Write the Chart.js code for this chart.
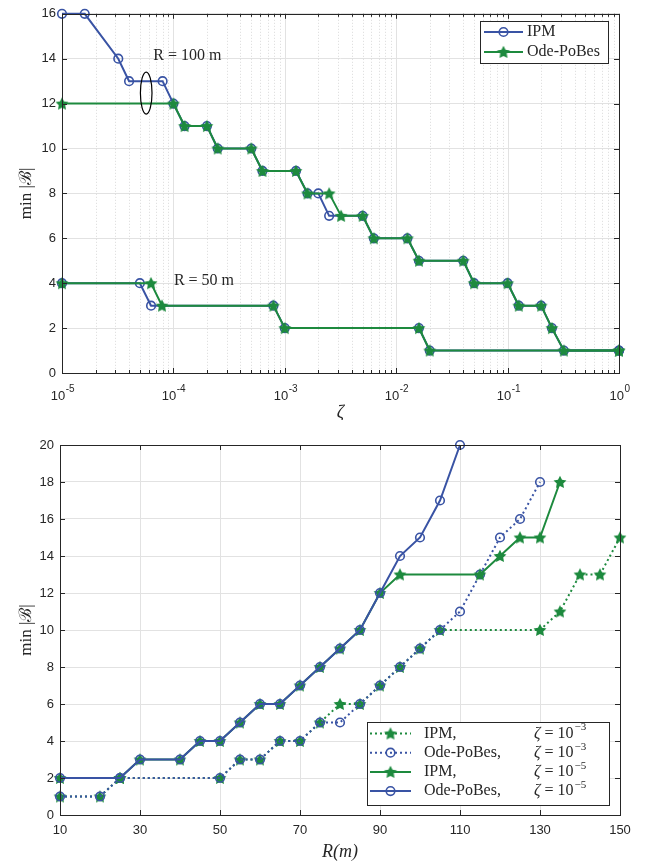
<!DOCTYPE html>
<html>
<head>
<meta charset="utf-8">
<script src="https://cdn.jsdelivr.net/npm/chart.js@4.4.0/dist/chart.umd.min.js"></script>
<style>
  body { margin: 0; background: #fff; width: 650px; height: 863px; overflow: hidden; }
  canvas { display: block; }
</style>
</head>
<body>
<canvas id="topChart" width="650" height="420"></canvas>
<canvas id="bottomChart" width="650" height="443"></canvas>
<script>
const BLUE = '#3953a4';
const GREEN = '#1d8a3e';
const INK = '#262626';
const SANS = '"Liberation Sans", Arial, sans-serif';
const SERIF = '"Liberation Serif", "DejaVu Serif", serif';

// --- min |B| versus zeta, R = 100 m ---
const zetaIpm100 = [1e-5, 1.6e-5, 3.2e-5, 4e-5, 8e-5, 1e-4, 1.26e-4, 2e-4, 2.5e-4, 5e-4, 6.3e-4, 1.26e-3, 1.6e-3, 2e-3, 2.5e-3, 5e-3, 6.3e-3, 1.26e-2, 1.6e-2, 4e-2, 5e-2, 0.1, 0.126, 0.2, 0.25, 0.32, 1];
const bIpm100 = [16, 16, 14, 13, 13, 12, 11, 11, 10, 10, 9, 9, 8, 8, 7, 7, 6, 6, 5, 5, 4, 4, 3, 3, 2, 1, 1];
const zetaOde100 = [1e-5, 1e-4, 1.26e-4, 2e-4, 2.5e-4, 5e-4, 6.3e-4, 1.26e-3, 1.6e-3, 2.5e-3, 3.2e-3, 5e-3, 6.3e-3, 1.26e-2, 1.6e-2, 4e-2, 5e-2, 0.1, 0.126, 0.2, 0.25, 0.32, 1];
const bOde100 = [12, 12, 11, 11, 10, 10, 9, 9, 8, 8, 7, 7, 6, 6, 5, 5, 4, 4, 3, 3, 2, 1, 1];

// --- min |B| versus zeta, R = 50 m ---
const zetaIpm50 = [1e-5, 5e-5, 6.3e-5, 7.9e-4, 1e-3, 1.6e-2, 2e-2, 1];
const bIpm50 = [4, 4, 3, 3, 2, 2, 1, 1];
const zetaOde50 = [1e-5, 6.3e-5, 7.9e-5, 7.9e-4, 1e-3, 1.6e-2, 2e-2, 1];
const bOde50 = [4, 4, 3, 3, 2, 2, 1, 1];

// --- min |B| versus R ---
const rIpm3 = [10, 20, 25, 50, 55, 60, 65, 70, 75, 80, 85, 90, 95, 100, 105, 130, 135, 140, 145, 150];
const bIpm3 = [1, 1, 2, 2, 3, 3, 4, 4, 5, 6, 6, 7, 8, 9, 10, 10, 11, 13, 13, 15];
const rOde3 = [10, 20, 25, 50, 55, 60, 65, 70, 75, 80, 85, 90, 95, 100, 105, 110, 115, 120, 125, 130];
const bOde3 = [1, 1, 2, 2, 3, 3, 4, 4, 5, 5, 6, 7, 8, 9, 10, 11, 13, 15, 16, 18];
const rIpm5 = [10, 25, 30, 40, 45, 50, 55, 60, 65, 70, 75, 80, 85, 90, 95, 115, 120, 125, 130, 135];
const bIpm5 = [2, 2, 3, 3, 4, 4, 5, 6, 6, 7, 8, 9, 10, 12, 13, 13, 14, 15, 15, 18];
const rOde5 = [10, 25, 30, 40, 45, 50, 55, 60, 65, 70, 75, 80, 85, 90, 95, 100, 105, 110];
const bOde5 = [2, 2, 3, 3, 4, 4, 5, 6, 6, 7, 8, 9, 10, 12, 14, 15, 17, 20];

const yTicksTop = { min: 0, max: 16, step: 2 };
const yTicksBottom = { min: 0, max: 20, step: 2 };
const xTicksBottom = { min: 10, max: 150, step: 20 };

// filled five-pointed star used as marker
function starImage(color, r) {
  const s = Math.ceil(r * 2 + 2);
  const c = document.createElement('canvas');
  c.width = c.height = s;
  const g = c.getContext('2d');
  g.beginPath();
  for (let i = 0; i < 10; i++) {
    const rad = i % 2 ? r * 0.5 : r;
    const a = -Math.PI / 2 + i * Math.PI / 5;
    g.lineTo(s / 2 + rad * Math.cos(a), s / 2 + rad * Math.sin(a) + r * 0.08);
  }
  g.closePath();
  g.fillStyle = color;
  g.fill();
  return c;
}
const STAR = starImage(GREEN, 6.8);

function series(xs, ys, color, marker, dotted, order) {
  return {
    data: xs.map((x, i) => ({ x, y: ys[i] })),
    borderColor: color,
    borderWidth: 2,
    borderDash: dotted ? [2, 3] : [],
    pointStyle: marker === 'star' ? STAR : 'circle',
    pointRadius: marker === 'star' ? 7 : 4.3,
    pointBorderWidth: 1.6,
    pointBorderColor: color,
    pointBackgroundColor: 'rgba(0,0,0,0)',
    tension: 0,
    fill: false,
    clip: false,
    order
  };
}

function seg(ctx, x1, y1, x2, y2) {
  ctx.beginPath(); ctx.moveTo(x1, y1); ctx.lineTo(x2, y2); ctx.stroke();
}

function drawZeta(ctx, x, y, exp) {
  ctx.textAlign = 'left';
  ctx.textBaseline = 'middle';
  ctx.font = 'italic 16px ' + SERIF;
  ctx.fillText('ζ', x, y);
  let w = ctx.measureText('ζ').width;
  ctx.font = '16px ' + SERIF;
  ctx.fillText(' = 10', x + w, y);
  w += ctx.measureText(' = 10').width;
  ctx.font = '11px ' + SERIF;
  ctx.fillText(exp, x + w + 1, y - 6);
}

function drawLegend(chart, lg) {
  const ctx = chart.ctx;
  ctx.save();
  ctx.fillStyle = '#fff';
  ctx.fillRect(lg.x, lg.y, lg.w, lg.h);
  ctx.strokeStyle = INK;
  ctx.lineWidth = 1;
  ctx.strokeRect(lg.x + 0.5, lg.y + 0.5, lg.w, lg.h);
  lg.rows.forEach((row, i) => {
    const ds = chart.data.datasets[row.ds];
    const cy = lg.y + lg.first + i * lg.step;
    ctx.strokeStyle = ds.borderColor;
    ctx.lineWidth = 2;
    ctx.setLineDash(ds.borderDash);
    seg(ctx, lg.lx, cy, lg.lx + lg.lw, cy);
    ctx.setLineDash([]);
    const mx = lg.lx + lg.lw / 2;
    if (ds.pointStyle === 'circle') {
      ctx.lineWidth = ds.pointBorderWidth;
      ctx.beginPath(); ctx.arc(mx, cy, ds.pointRadius, 0, Math.PI * 2); ctx.stroke();
    } else {
      ctx.drawImage(ds.pointStyle, mx - ds.pointStyle.width / 2, cy - ds.pointStyle.height / 2);
    }
    ctx.fillStyle = INK;
    ctx.font = '16px ' + SERIF;
    ctx.textAlign = 'left';
    ctx.textBaseline = 'middle';
    ctx.fillText(row.text, lg.tx, cy);
    if (row.exp) drawZeta(ctx, lg.zx, cy, row.exp);
  });
  ctx.restore();
}

// grid, inward ticks, box, labels, notes and legend drawn around the library's plot
const frame = {
  id: 'frame',
  beforeDatasetsDraw(chart, args, opts) {
    if (!opts.log) return;
    const { ctx, chartArea: a } = chart;
    const x = chart.scales.x;
    ctx.save();
    ctx.lineWidth = 1;
    for (let d = -5; d <= 0; d++) {
      const px = Math.round(x.getPixelForValue(Math.pow(10, d))) + 0.5;
      ctx.strokeStyle = '#e2e2e2';
      ctx.setLineDash([]);
      seg(ctx, px, a.top, px, a.bottom);
      if (d === 0) continue;
      ctx.strokeStyle = '#dadada';
      ctx.setLineDash([1, 2]);
      for (let m = 2; m < 10; m++) {
        const qx = Math.round(x.getPixelForValue(m * Math.pow(10, d))) + 0.5;
        seg(ctx, qx, a.top, qx, a.bottom);
      }
    }
    ctx.restore();
  },
  afterDraw(chart, args, opts) {
    const { ctx, chartArea: a } = chart;
    const x = chart.scales.x, y = chart.scales.y;
    ctx.save();
    ctx.strokeStyle = INK;
    ctx.lineWidth = 1;
    y.ticks.forEach(t => {
      const py = Math.round(y.getPixelForValue(t.value)) + 0.5;
      seg(ctx, a.left, py, a.left + 5, py);
      seg(ctx, a.right - 5, py, a.right, py);
    });
    if (opts.log) {
      for (let d = -5; d <= 0; d++) {
        const px = Math.round(x.getPixelForValue(Math.pow(10, d))) + 0.5;
        seg(ctx, px, a.bottom, px, a.bottom - 5);
        seg(ctx, px, a.top, px, a.top + 5);
        // decade labels 10^d
        ctx.fillStyle = INK;
        ctx.font = '13px ' + SANS;
        const w1 = ctx.measureText('10').width;
        const e = d === 0 ? '0' : '-' + (-d);
        ctx.font = '10px ' + SANS;
        const w2 = ctx.measureText(e).width;
        const x0 = px - (w1 + w2) / 2;
        ctx.textAlign = 'left';
        ctx.textBaseline = 'middle';
        ctx.font = '13px ' + SANS;
        ctx.fillText('10', x0, a.bottom + 23);
        ctx.font = '10px ' + SANS;
        ctx.fillText(e, x0 + w1 + 0.5, a.bottom + 16);
        if (d === 0) continue;
        for (let m = 2; m < 10; m++) {
          const qx = Math.round(x.getPixelForValue(m * Math.pow(10, d))) + 0.5;
          seg(ctx, qx, a.bottom, qx, a.bottom - 3);
          seg(ctx, qx, a.top, qx, a.top + 3);
        }
      }
    } else {
      x.ticks.forEach(t => {
        const px = Math.round(x.getPixelForValue(t.value)) + 0.5;
        seg(ctx, px, a.bottom, px, a.bottom - 5);
        seg(ctx, px, a.top, px, a.top + 5);
      });
    }
    ctx.strokeRect(Math.round(a.left) + 0.5, Math.round(a.top) + 0.5, Math.round(a.right - a.left), Math.round(a.bottom - a.top));

    // axis titles
    ctx.fillStyle = INK;
    ctx.textAlign = 'center';
    ctx.textBaseline = 'middle';
    ctx.font = 'italic 18px ' + SERIF;
    ctx.fillText(opts.xTitle, (a.left + a.right) / 2, opts.xTitleY);
    ctx.save();
    ctx.translate(opts.yTitleX, (a.top + a.bottom) / 2);
    ctx.rotate(-Math.PI / 2);
    ctx.font = '17px ' + SERIF;
    ctx.fillText('min |ℬ|', 0, 0);
    ctx.restore();

    // notes placed in data coordinates
    (opts.notes || []).forEach(n => {
      const px = x.getPixelForValue(n.x), py = y.getPixelForValue(n.y);
      if (n.text) {
        ctx.fillStyle = INK;
        ctx.font = '16px ' + SERIF;
        ctx.textAlign = 'left';
        ctx.textBaseline = 'middle';
        ctx.fillText(n.text, px, py);
      } else {
        ctx.strokeStyle = '#000';
        ctx.lineWidth = 1.2;
        ctx.beginPath();
        ctx.ellipse(px, py, n.rx, n.ry, 0, 0, Math.PI * 2);
        ctx.stroke();
      }
    });
    ctx.restore();
    if (opts.legend) drawLegend(chart, opts.legend);
  }
};

const tickFont = { family: SANS, size: 13 };

new Chart(document.getElementById('topChart'), {
  type: 'line',
  data: {
    datasets: [
      series(zetaIpm100, bIpm100, BLUE, 'circle', false, 1),
      series(zetaOde100, bOde100, GREEN, 'star', false, 0),
      series(zetaIpm50, bIpm50, BLUE, 'circle', false, 1),
      series(zetaOde50, bOde50, GREEN, 'star', false, 0)
    ]
  },
  options: {
    responsive: false,
    animation: false,
    layout: { padding: { top: 10, right: 31, left: 0, bottom: 0 } },
    plugins: {
      legend: { display: false },
      tooltip: { enabled: false },
      frame: {
        log: true,
        xTitle: 'ζ',
        xTitleY: 413,
        yTitleX: 27,
        notes: [
          { x: 6.6e-5, y: 14.15, text: 'R = 100 m' },
          { x: 5.7e-5, y: 12.47, rx: 5.8, ry: 21 },
          { x: 1.01e-4, y: 4.12, text: 'R = 50 m' }
        ],
        legend: {
          x: 480, y: 21, w: 128, h: 42, first: 11, step: 20,
          lx: 484, lw: 39, tx: 527,
          rows: [{ ds: 0, text: 'IPM' }, { ds: 1, text: 'Ode-PoBes' }]
        }
      }
    },
    scales: {
      x: {
        type: 'logarithmic', min: 1e-5, max: 1,
        grid: { display: false }, border: { display: false },
        ticks: { display: false },
        afterFit: s => { s.height = 47; }
      },
      y: {
        min: yTicksTop.min, max: yTicksTop.max,
        ticks: { stepSize: yTicksTop.step, font: tickFont, color: INK, padding: 6 },
        grid: { color: '#e2e2e2', drawTicks: false }, border: { display: false },
        afterFit: s => { s.width = 62; }
      }
    }
  },
  plugins: [frame]
});

new Chart(document.getElementById('bottomChart'), {
  type: 'line',
  data: {
    datasets: [
      series(rIpm3, bIpm3, GREEN, 'star', true, 3),
      series(rOde3, bOde3, BLUE, 'circle', true, 2),
      series(rIpm5, bIpm5, GREEN, 'star', false, 1),
      series(rOde5, bOde5, BLUE, 'circle', false, 0)
    ]
  },
  options: {
    responsive: false,
    animation: false,
    layout: { padding: { top: 25, right: 30, left: 0, bottom: 0 } },
    plugins: {
      legend: { display: false },
      tooltip: { enabled: false },
      frame: {
        log: false,
        xTitle: 'R(m)',
        xTitleY: 432,
        yTitleX: 27,
        legend: {
          x: 367, y: 302, w: 242, h: 83, first: 11.5, step: 19.2,
          lx: 370, lw: 41, tx: 424, zx: 534,
          rows: [
            { ds: 0, text: 'IPM,', exp: '−3' },
            { ds: 1, text: 'Ode-PoBes,', exp: '−3' },
            { ds: 2, text: 'IPM,', exp: '−5' },
            { ds: 3, text: 'Ode-PoBes,', exp: '−5' }
          ]
        }
      }
    },
    scales: {
      x: {
        type: 'linear', min: xTicksBottom.min, max: xTicksBottom.max,
        ticks: { stepSize: xTicksBottom.step, font: tickFont, color: INK, padding: 8, maxRotation: 0 },
        grid: { color: '#e2e2e2', drawTicks: false }, border: { display: false },
        afterFit: s => { s.height = 48; }
      },
      y: {
        min: yTicksBottom.min, max: yTicksBottom.max,
        ticks: { stepSize: yTicksBottom.step, font: tickFont, color: INK, padding: 6 },
        grid: { color: '#e2e2e2', drawTicks: false }, border: { display: false },
        afterFit: s => { s.width = 60; }
      }
    }
  },
  plugins: [frame]
});
</script>
</body>
</html>
